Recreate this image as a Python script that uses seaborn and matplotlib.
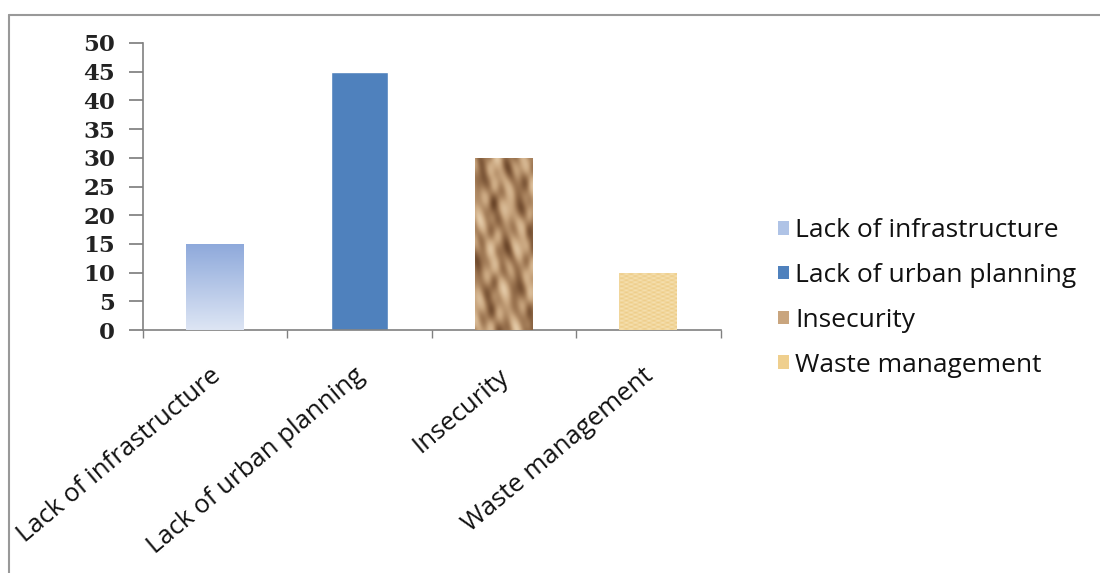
import numpy as np
import pandas as pd
import seaborn as sns
import matplotlib.pyplot as plt
from matplotlib.lines import Line2D
from matplotlib.patches import Patch
from matplotlib.colors import LinearSegmentedColormap
from matplotlib.transforms import ScaledTranslation

categories = ["Lack of infrastructure", "Lack of urban planning", "Insecurity", "Waste management"]
values = [15, 45, 30, 10]
bar_colors = ["#B7C8E8", "#4F81BD", "#A98461", "#F2D69A"]
legend_colors = ["#AFC3E6", "#4F81BD", "#C9A57E", "#EFCF8E"]
y_ticks = [0, 5, 10, 15, 20, 25, 30, 35, 40, 45, 50]

sns.set_theme(style="white")
plt.rcParams['font.family'] = ['Open Sans', 'DejaVu Sans']

df = pd.DataFrame({"issue": categories, "count": values})

fig = plt.figure(figsize=(11, 5.73), dpi=100)
ax = fig.add_axes([0.130, 0.424, 0.525, 0.501])

sns.barplot(data=df, x="issue", y="count", hue="issue", palette=bar_colors,
            width=0.4, legend=False, saturation=1, ax=ax)

# fill textures clipped to the bars
bars = ax.patches
grad = np.linspace(0, 1, 100).reshape(-1, 1)
cm_blue = LinearSegmentedColormap.from_list("b", ["#DDE5F4", "#8EA9DB"])
b = bars[0]
x0, y0, w, h = b.get_x(), b.get_y(), b.get_width(), b.get_height()
im = ax.imshow(grad, cmap=cm_blue, extent=[x0, x0 + w, y0, y0 + h], origin="lower",
               aspect="auto", zorder=3)
im.set_clip_path(b)

yy, xx = np.mgrid[0:150, 0:50]
paper = (np.sin(xx * 0.23 + yy * 0.071) + 0.8 * np.sin(yy * 0.093 - xx * 0.31)
         + 0.6 * np.sin(xx * 0.57 + yy * 0.19) + 0.5 * np.sin(yy * 0.27 + np.sin(xx * 0.2) * 2))
cm_brown = LinearSegmentedColormap.from_list("br", ["#6A4529", "#9C7551", "#C9A67F", "#E3C9A6"])
b = bars[2]
x0, y0, w, h = b.get_x(), b.get_y(), b.get_width(), b.get_height()
im = ax.imshow(paper, cmap=cm_brown, extent=[x0, x0 + w, y0, y0 + h], origin="lower",
               aspect="auto", zorder=3, interpolation="bicubic")
im.set_clip_path(b)

cm_sand = LinearSegmentedColormap.from_list("s", ["#EDCB85", "#F6E2B4"])
sand = np.sin(xx * 0.8) * np.sin(yy * 0.6)
b = bars[3]
x0, y0, w, h = b.get_x(), b.get_y(), b.get_width(), b.get_height()
im = ax.imshow(sand, cmap=cm_sand, extent=[x0, x0 + w, y0, y0 + h], origin="lower",
               aspect="auto", zorder=3)
im.set_clip_path(b)

ax.set_xlim(-0.5, len(categories) - 0.5)
ax.set_ylim(0, 50)
ax.set_yticks(y_ticks)
ax.set_yticklabels([str(v) for v in y_ticks], family="DejaVu Serif", fontweight="bold",
                   fontsize=16.5, color="#222222")
ax.set_xticks(range(len(categories)))
ax.set_xticklabels(categories, rotation=40, ha="right", rotation_mode="anchor",
                   fontsize=18.5, color="#111111")
ax.set_xticks(np.arange(-0.5, len(categories)), minor=True)
ax.tick_params(axis="x", which="major", length=0, pad=24)
ax.tick_params(axis="x", which="minor", length=6, direction="out", color="#808080", bottom=True)
ax.tick_params(axis="y", length=10, direction="out", color="#808080", left=True, pad=10)
ax.set_xlabel("")
ax.set_ylabel("")
for s in ["top", "right"]:
    ax.spines[s].set_visible(False)
for s in ["left", "bottom"]:
    ax.spines[s].set_color("#808080")
    ax.spines[s].set_linewidth(1.2)

# nudge the slanted labels a little to the left
shift = ScaledTranslation(-0.06, 0.0, fig.dpi_scale_trans)
for lab in ax.get_xticklabels():
    lab.set_transform(lab.get_transform() + shift)

handles = [Patch(facecolor=c, edgecolor="none") for c in legend_colors]
fig.legend(handles, categories, loc="center left", bbox_to_anchor=(0.707, 0.480),
           frameon=False, fontsize=19, handlelength=0.42, handleheight=0.42,
           handletextpad=0.25, labelspacing=0.75, borderpad=0, borderaxespad=0,
           labelcolor="#111111")

fig.add_artist(Line2D([0.008, 1.0], [0.974, 0.974], color="#999999", lw=1.5))
fig.add_artist(Line2D([0.008, 0.008], [0.0, 0.974], color="#999999", lw=1.5))

fig.savefig("out.png", dpi=100)
